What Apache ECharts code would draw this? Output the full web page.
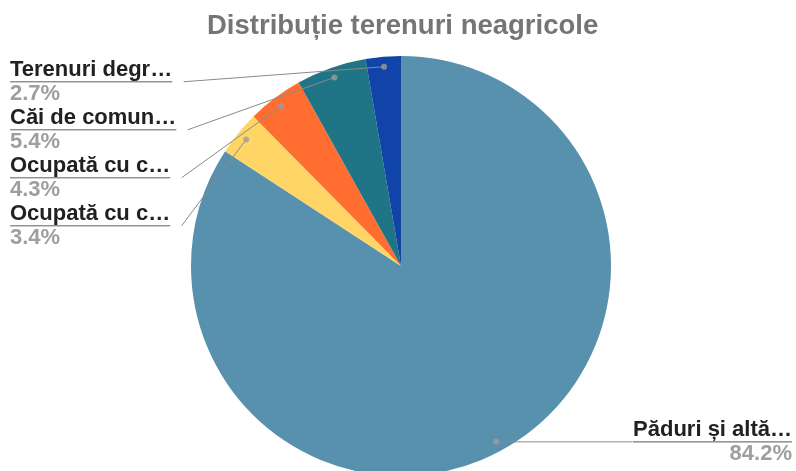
<!DOCTYPE html>
<html>
<head>
<meta charset="utf-8">
<script src="https://cdn.jsdelivr.net/npm/echarts@6/dist/echarts.min.js"></script>
<style>
html, body { margin: 0; padding: 0; background: #fff; }
#chart { width: 796px; height: 471px; }
</style>
</head>
<body>
<div id="chart"></div>
<script>
var names = ['Păduri și altă…', 'Ocupată cu c…', 'Ocupată cu c…', 'Căi de comun…', 'Terenuri degr…'];
var values = [84.2, 3.4, 4.3, 5.4, 2.7];
var colors = ['#5891ad', '#ffd666', '#ff6d31', '#1f7585', '#1044a8'];

var FONT = '"Liberation Sans", Arial, sans-serif';
var CENTER = [401, 266];

// culoare pe fiecare felie (numele se repeta, deci nu se poate lasa pe paleta)
var pieData = names.map(function (n, i) {
    return {name: n, value: values[i], itemStyle: {color: colors[i]}};
});
var labelData = names.map(function (n, i) {
    return {name: n, value: values[i]};
});

// mijlocul fiecarei felii -> punctul de la capatul liniei
var total = values.reduce(function (a, b) { return a + b; }, 0);
var acc = 0;
var dots = values.map(function (v) {
    var mid = acc + v / 2;
    acc += v;
    return [0.952, mid / total * 100];
});

var chart = echarts.init(document.getElementById('chart'));
var option = {
    animation: false,
    title: {
        text: 'Distribuție terenuri neagricole',
        left: 202,
        top: 7,
        textStyle: {fontFamily: FONT, fontSize: 27.5, fontWeight: 'bold', color: '#757575'}
    },
    polar: {center: CENTER, radius: 210},
    angleAxis: {type: 'value', min: 0, max: 100, startAngle: 90, show: false},
    radiusAxis: {type: 'value', min: 0, max: 1, show: false},
    series: [{
        type: 'pie',
        center: CENTER,
        radius: 210,
        startAngle: 90,
        silent: true,
        z: 1,
        label: {show: false},
        labelLine: {show: false},
        data: pieData
    }, {
        // serie transparenta, doar pentru etichete (linia porneste din interiorul feliei)
        type: 'pie',
        center: CENTER,
        radius: 200,
        startAngle: 90,
        silent: true,
        z: 3,
        itemStyle: {color: 'rgba(0,0,0,0)'},
        label: {
            alignTo: 'edge',
            edgeDistance: 10,
            fontFamily: FONT,
            formatter: function (p) {
                return '{n|' + p.name + '}\n{hr|}\n{p|' + p.value.toFixed(1) + '%}';
            },
            rich: {
                n: {fontFamily: FONT, fontSize: 22, fontWeight: 'bold', color: '#212121', lineHeight: 24},
                hr: {width: '100%', height: 0, borderWidth: 1, borderColor: '#8a8a8a'},
                p: {fontFamily: FONT, fontSize: 22, fontWeight: 'bold', color: '#9e9e9e', lineHeight: 24}
            }
        },
        labelLine: {
            show: true,
            length: 10,
            lineStyle: {color: '#8a8a8a', width: 1}
        },
        labelLayout: function (p) {
            var pts = p.labelLinePoints;
            if (!pts) {
                return {};
            }
            var r = p.labelRect;
            var isLeft = r.x + r.width < pts[0][0];
            var dx, dy;
            if (isLeft) {
                dx = 0;
                dy = 25;
            } else {
                // eticheta din dreapta sta pe orizontala punctului
                dx = 6;
                dy = pts[0][1] - (r.y + r.height / 2);
            }
            var y = r.y + r.height / 2 + dy;
            var end = isLeft ? r.x + r.width + 11 : r.x + dx;
            return {dx: dx, dy: dy, labelLinePoints: [pts[0], [end, y]]};
        },
        data: labelData
    }, {
        type: 'scatter',
        coordinateSystem: 'polar',
        symbolSize: 6,
        silent: true,
        itemStyle: {color: '#9e9e9e'},
        z: 5,
        data: dots
    }]
};
chart.setOption(option);
</script>
</body>
</html>
